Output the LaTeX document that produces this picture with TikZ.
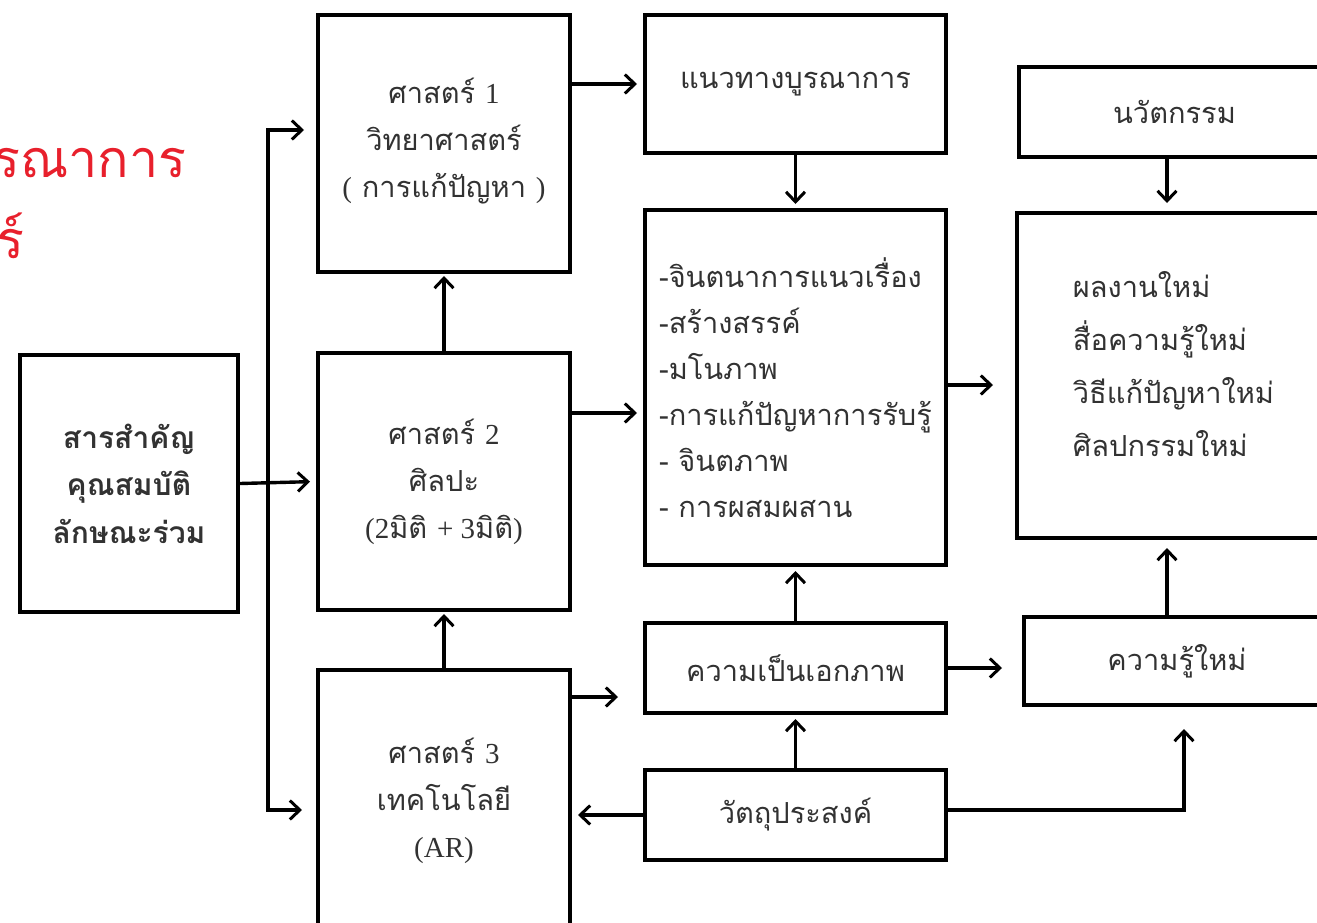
\documentclass[tikz,border=0pt]{standalone}
\usepackage{fontspec}
\setmainfont{Liberation Serif}
\newfontfamily\thaif[Script=Thai]{Loma}
\usetikzlibrary{arrows.meta,calc}

\definecolor{ink}{RGB}{50,50,50}
\definecolor{titlered}{RGB}{232,32,44}

\tikzset{
  box/.style={draw=black, line width=4pt, inner sep=0pt, text=ink,
    font=\fontsize{29}{47}\selectfont\thaif},
  arr/.style={line width=3.4pt, line join=miter,
    -{Straight Barb[length=10pt,width=19pt,line width=3pt]}},
}

\begin{document}
\begin{tikzpicture}[x=1pt,y=-1pt]
\useasboundingbox (0,0) rectangle (1317,923);
\clip (0,0) rectangle (1317,923);
\fill[white] (0,0) rectangle (1317,923);

% heading, running off the left edge
\node[anchor=base west, inner sep=0, text=titlered,
  font=\fontsize{52}{60}\selectfont\thaif] (title1) at (-8,178) {รณาการ};
\node[anchor=base west, inner sep=0, text=titlered,
  font=\fontsize{52}{60}\selectfont\thaif] (title2) at (-4,258) {ร์};

% left column
\node[box, minimum width=218, minimum height=257, align=center,
  font=\fontsize{30}{47.5}\selectfont\thaif\bfseries] (core) at (129,483.5)
  {สารสำคัญ\\คุณสมบัติ\\ลักษณะร่วม};

% the three disciplines
\node[box, minimum width=252, minimum height=257, align=center] (s1) at (444,143.5)
  {ศาสตร์ {\rmfamily 1}\\วิทยาศาสตร์\\{\rmfamily (} การแก้ปัญหา {\rmfamily )}\\[-35pt]};
\node[box, minimum width=252, minimum height=257, align=center] (s2) at (444,481.5)
  {ศาสตร์ {\rmfamily 2}\\ศิลปะ\\{\rmfamily (2}มิติ {\rmfamily + 3}มิติ{\rmfamily )}};
\node[box, minimum width=252, minimum height=262, align=center] (s3) at (444,801)
  {ศาสตร์ {\rmfamily 3}\\เทคโนโลยี\\{\rmfamily (AR)}};

% middle column
\node[box, minimum width=301, minimum height=138] (path) at (795.5,84)
  {แนวทางบูรณาการ};
\node[box, minimum width=301, minimum height=355, align=left,
  font=\fontsize{29}{46}\selectfont\thaif] (ideas) at (795.5,387.5)
  {-จินตนาการแนวเรื่อง\\-สร้างสรรค์\\-มโนภาพ\\-การแก้ปัญหาการรับรู้\\- จินตภาพ\\- การผสมผสาน};
\node[box, minimum width=301, minimum height=90] (unity) at (795.5,668)
  {ความเป็นเอกภาพ};
\node[box, minimum width=301, minimum height=90] (goal) at (795.5,815)
  {วัตถุประสงค์};

% right column
\node[box, minimum width=311, minimum height=90] (innov) at (1174.5,112)
  {นวัตกรรม};
\node[box, minimum width=313, minimum height=325, align=left,
  font=\fontsize{29}{53}\selectfont\thaif] (works) at (1173.5,375.5)
  {ผลงานใหม่\\สื่อความรู้ใหม่\\วิธีแก้ปัญหาใหม่\\ศิลปกรรมใหม่\\[-29pt]};
\node[box, minimum width=306, minimum height=88] (know) at (1177,661)
  {ความรู้ใหม่};

% distribution bus from the core box
\coordinate (busTop) at (268,130);
\coordinate (busMid) at (268,483.5);
\coordinate (busBot) at (268,810);
\draw[arr, shorten >=12pt] (busMid) -- (busTop) -- (busTop -| s1.west);
\draw[arr, shorten >=14pt] (busMid) -- (busBot) -- (busBot -| s3.west);
\draw[arr, shorten >=6pt] (core.east) -- (s2.west);

% between the disciplines
\draw[arr, shorten >=2pt] (s2.north) -- (s1.south);
\draw[arr, shorten >=2pt] (s3.north) -- (s2.south);

% into the middle column
\coordinate (rowA) at (0,413);
\coordinate (rowB) at (0,697);
\draw[arr, shorten >=6pt] (s1.east |- path.west) -- (path.west);
\draw[arr, shorten >=6pt] (s2.east |- rowA) -- (ideas.west |- rowA);
\draw[arr, shorten >=25pt] (s3.east |- rowB) -- (unity.west |- rowB);
\draw[arr, shorten >=6pt] (goal.west) -- (goal.west -| s3.east);

\draw[arr, shorten >=4pt] (path.south) -- (ideas.north);
\draw[arr, shorten >=4pt] (unity.north) -- (ideas.south);
\draw[arr, shorten >=4pt] (goal.north) -- (unity.south);

% towards the outcomes
\coordinate (colR) at (1167,0);
\coordinate (colK) at (1184,0);
\coordinate (rowC) at (0,385);
\coordinate (rowD) at (0,810);
\draw[arr, shorten >=22pt] (ideas.east |- rowC) -- (works.west |- rowC);
\draw[arr, shorten >=20pt] (unity.east) -- (know.west |- unity.east);
\draw[arr, shorten >=22pt] (goal.east |- rowD) -| (know.south -| colK);
\draw[arr, shorten >=8pt] (innov.south -| colR) -- (works.north -| colR);
\draw[arr, shorten >=8pt] (know.north -| colR) -- (works.south -| colR);
\end{tikzpicture}
\end{document}
